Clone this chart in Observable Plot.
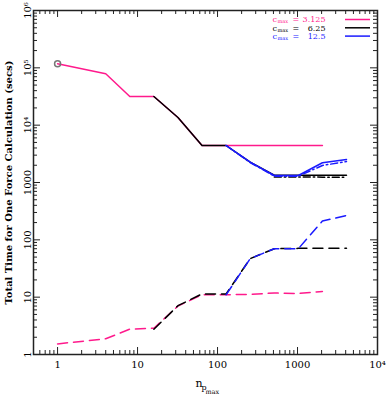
<!DOCTYPE html>
<html><head><meta charset="utf-8">
<script src="https://cdn.jsdelivr.net/npm/d3@7"></script>
<script src="https://cdn.jsdelivr.net/npm/@observablehq/plot@0.6"></script>
<style>body{margin:0;background:#fff} svg{display:block}</style>
</head><body><div id="chart"></div>
<script>
// ---- data ----
const pinkSolidX = [1, 4, 8, 16, 32, 64, 128, 256, 512, 1024, 2048];
const pinkSolidY = [117500, 78700, 31600, 31600, 13600, 4420, 4420, 4420, 4420, 4420, 4420];
const pinkDashX  = [1, 4, 8, 16, 32, 64, 128, 256, 512, 1024, 2048];
const pinkDashY  = [1.53, 1.88, 2.77, 2.87, 7.0, 11.0, 11.0, 11.2, 11.8, 11.6, 12.6];

const blackSolidX = [16, 32, 64, 128, 256, 512, 1024, 2048, 4096];
const blackSolidY = [31600, 13600, 4420, 4420, 2260, 1340, 1340, 1340, 1340];
const blackDashX  = [16, 32, 64, 128, 256, 512, 1024, 2048, 4096];
const blackDashY  = [2.75, 7.1, 11.4, 11.4, 47, 70, 71, 71, 71];
const blackDotDashX = [512, 1024, 2048, 4096];
const blackDotDashY = [1250, 1250, 1240, 1240];

const blueSolidX = [128, 256, 512, 1024, 2048, 4096];
const blueSolidY = [4420, 2260, 1325, 1325, 2210, 2520];
const blueDotDashX = [128, 256, 512, 1024, 2048, 4096];
const blueDotDashY = [4420, 2230, 1290, 1290, 1980, 2320];
const blueDashX  = [128, 256, 512, 1024, 2048, 4096];
const blueDashY  = [11.0, 47, 70, 70, 213, 265];

const legendLabels = ["3.125", "6.25", "12.5"];
const legendColors = ["#ff1a8c", "#000000", "#1a1aff"];

const xTickValues = [1, 10, 100, 1000, 10000];
const xTickLabels = ["1", "10", "100", "1000", "10\u2074"];
const yTickValues = [1, 10, 100, 1000, 10000, 100000, 1000000];
const yTickLabels = ["1", "10", "100", "1000", "10\u2074", "10\u2075", "10\u2076"];

// ---- helpers ----
const rows = (xs, ys) => xs.map((x, i) => ({x, y: ys[i]}));
const minors = (lo, hi) => {
  const out = [];
  for (let e = lo; e < hi; e++) for (let m = 2; m <= 9; m++) out.push(m * 10 ** e);
  return out;
};
const xMinor = minors(-1, 4).filter(v => v > 0.5);
const yMinor = minors(0, 6);
const xMajor = [1, 10, 100, 1000];
const yMajor = [10, 100, 1000, 10000, 100000];

const W = 388, H = 397, mL = 33, mR = 11, mT = 10, mB = 43;
const fw = W - mL - mR, fh = H - mT - mB;
const font = "DejaVu Serif";

const lineOpts = (color, dash) => ({x: "x", y: "y", stroke: color, strokeWidth: 1.5, strokeDasharray: dash});
const DASH = "10,6", DOTDASH = "7,3,1.5,3";

const legendMarks = legendLabels.flatMap((lab, i) => {
  const c = legendColors[i];
  const base = {frameAnchor: "top-left", fill: c, textAnchor: "start", lineAnchor: "bottom", fontFamily: font};
  const dy = 11.7 + 8.3 * i;
  return [
    Plot.text(["c"], {...base, dx: 239, dy, fontSize: 8}),
    Plot.text(["max"], {...base, dx: 244, dy: dy + 1, fontSize: 5}),
    Plot.text(["="], {...base, dx: 259, dy, fontSize: 8}),
    Plot.text([lab], {...base, textAnchor: "end", dx: 292, dy, fontSize: 8}),
    Plot.ruleY([1e6], {stroke: c, strokeWidth: 1.5, dy: 9 + 8.3 * i, insetLeft: 312, insetRight: 7})
  ];
});

const chart = Plot.plot({
  width: W, height: H,
  marginLeft: mL, marginRight: mR, marginTop: mT, marginBottom: mB,
  style: {fontFamily: font, fontSize: "10px", background: "#fff", color: "#000"},
  x: {type: "log", domain: [0.5, 10000]},
  y: {type: "log", domain: [1, 1e6]},
  marks: [
    // inward ticks on all four sides
    Plot.tickX(xMajor, {x: d => d, insetTop: fh - 7, stroke: "#222"}),
    Plot.tickX(xMajor, {x: d => d, insetBottom: fh - 7, stroke: "#222"}),
    Plot.tickX(xMinor, {x: d => d, insetTop: fh - 4, stroke: "#222"}),
    Plot.tickX(xMinor, {x: d => d, insetBottom: fh - 4, stroke: "#222"}),
    Plot.tickY(yMajor, {y: d => d, insetRight: fw - 7, stroke: "#222"}),
    Plot.tickY(yMajor, {y: d => d, insetLeft: fw - 7, stroke: "#222"}),
    Plot.tickY(yMinor, {y: d => d, insetRight: fw - 4, stroke: "#222"}),
    Plot.tickY(yMinor, {y: d => d, insetLeft: fw - 4, stroke: "#222"}),
    Plot.axisX({ticks: xTickValues, tickSize: 0, tickPadding: 6, tickFormat: d => xTickLabels[xTickValues.indexOf(d)], label: null, fontSize: 10, fontFamily: font}),
    Plot.axisY({ticks: yTickValues, tickSize: 0, tickPadding: 3, tickRotate: -90, tickFormat: d => yTickLabels[yTickValues.indexOf(d)], label: null, fontSize: 10, fontFamily: font}),
    Plot.frame({stroke: "#222", strokeWidth: 1.5}),
    // series
    Plot.line(rows(pinkSolidX, pinkSolidY), lineOpts(legendColors[0], null)),
    Plot.line(rows(pinkDashX, pinkDashY), lineOpts(legendColors[0], DASH)),
    Plot.line(rows(blackSolidX, blackSolidY), lineOpts(legendColors[1], null)),
    Plot.line(rows(blackDotDashX, blackDotDashY), lineOpts(legendColors[1], DOTDASH)),
    Plot.line(rows(blackDashX, blackDashY), lineOpts(legendColors[1], DASH)),
    Plot.line(rows(blueSolidX, blueSolidY), lineOpts(legendColors[2], null)),
    Plot.line(rows(blueDotDashX, blueDotDashY), lineOpts(legendColors[2], DOTDASH)),
    Plot.line(rows(blueDashX, blueDashY), lineOpts(legendColors[2], DASH)),
    Plot.dot([{x: pinkSolidX[0], y: pinkSolidY[0]}], {x: "x", y: "y", r: 3, stroke: "#777", fill: "none"}),
    // axis titles
    Plot.text(["Total Time for One Force Calculation (secs)"], {frameAnchor: "left", rotate: -90, dx: -25, textAnchor: "middle", fontSize: 10, fontWeight: "bold", fontFamily: font}),
    Plot.text(["n"], {frameAnchor: "bottom", dx: -10, dy: 32, textAnchor: "start", lineAnchor: "bottom", fontSize: 11, fontFamily: font}),
    Plot.text(["p"], {frameAnchor: "bottom", dx: -4, dy: 35.5, textAnchor: "start", lineAnchor: "bottom", fontSize: 8, fontFamily: font}),
    Plot.text(["max"], {frameAnchor: "bottom", dx: 0, dy: 39, textAnchor: "start", lineAnchor: "bottom", fontSize: 6.5, fontFamily: font}),
    ...legendMarks
  ]
});
document.getElementById("chart").appendChild(chart);
</script>
</body></html>
